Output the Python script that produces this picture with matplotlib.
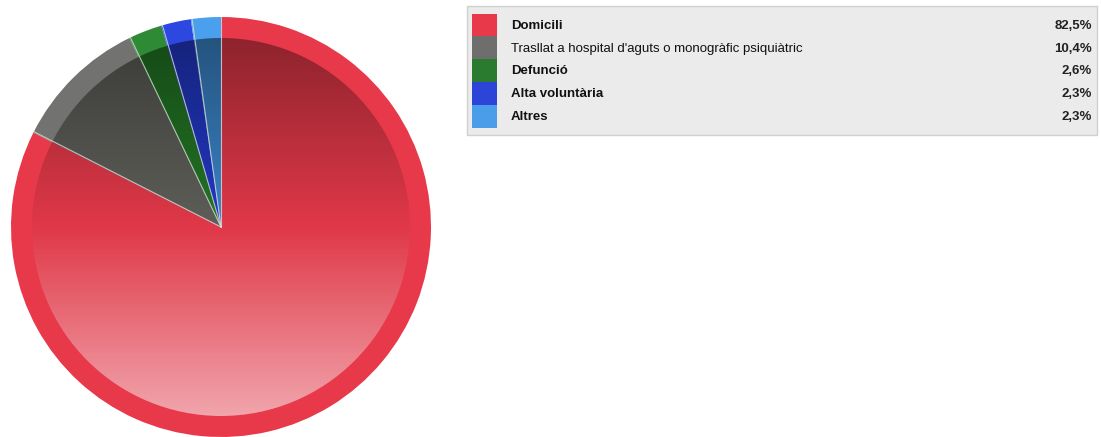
import numpy as np
import matplotlib.pyplot as plt
from matplotlib.patches import Circle, Rectangle

# dades
categories = ["Domicili",
              "Trasllat a hospital d'aguts o monogràfic psiquiàtric",
              "Defunció",
              "Alta voluntària",
              "Altres"]
valors = [82.5, 10.4, 2.6, 2.3, 2.3]
etiquetes_pct = ["82,5%", "10,4%", "2,6%", "2,3%", "2,3%"]
negreta = [True, False, True, True, True]

colors_vora = ["#e8394a", "#727270", "#2f8a35", "#2c48e0", "#4aa0ec"]
colors_interior = ["#e03848", "#5e5e59", "#237525", "#2238c4", "#3a84c8"]
colors_llegenda = ["#e8394a", "#6e6e6c", "#2a7a30", "#2c44d8", "#4a9de8"]

W, H = 1101, 437
fig = plt.figure(figsize=(W / 100, H / 100), dpi=100)
ax = fig.add_axes([0, 0, 1, 1])

cx, cy = 221, 437 - 227
R = 210
r_in = R * 0.9

# -------------------------
# PASTÍS
# -------------------------
ax.pie(valors, colors=colors_vora, startangle=90, counterclock=False,
       radius=R, center=(cx, cy), frame=True,
       wedgeprops=dict(linewidth=0))
ax.pie(valors, colors=colors_interior, startangle=90, counterclock=False,
       radius=r_in, center=(cx, cy), frame=True,
       wedgeprops=dict(linewidth=0))

# degradat: fosc a dalt, clar a baix
n = 256
t = np.linspace(0, 1, n)  # 0 = dalt
grad = np.zeros((n, 2, 4))
for i, v in enumerate(t):
    if v < 0.5:
        grad[i, :, :3] = 0.0
        grad[i, :, 3] = 0.37 * (0.5 - v) / 0.5
    else:
        grad[i, :, :3] = 1.0
        grad[i, :, 3] = 0.55 * (v - 0.5) / 0.5
im = ax.imshow(grad, extent=(cx - r_in, cx + r_in, cy - r_in, cy + r_in),
               origin="upper", aspect="auto", zorder=3)
clip = Circle((cx, cy), r_in, transform=ax.transData)
im.set_clip_path(clip)

# línies de separació
angles = 90 - np.cumsum([0] + valors) * 3.6
for a in angles[:-1]:
    rad = np.radians(a)
    ax.plot([cx, cx + R * np.cos(rad)], [cy, cy + R * np.sin(rad)],
            color="#dcdcdc", lw=0.8, alpha=0.8, zorder=4)

ax.set_xlim(0, W)
ax.set_ylim(0, H)
ax.set_aspect("equal")
ax.axis("off")

# -------------------------
# LLEGENDA
# -------------------------
x0, y_top, y_bot, x1 = 467, 437 - 6, 437 - 135, 1097
ax.add_patch(Rectangle((x0, y_bot), x1 - x0, y_top - y_bot,
                       facecolor="#ebebeb", edgecolor="#d0d0d0", lw=1, zorder=5))
fila = 22.8
y_ini = 437 - 13.5
for i, cat in enumerate(categories):
    yt = y_ini - i * fila
    ax.add_patch(Rectangle((472, yt - fila), 25, fila,
                           facecolor=colors_llegenda[i], edgecolor="none", zorder=6))
    yc = yt - fila / 2 - 1
    pes = "bold" if negreta[i] else "normal"
    ax.text(511, yc, cat, fontsize=9.5, fontweight=pes, color="#111111",
            va="center", ha="left", zorder=7, family="Liberation Sans")
    ax.text(1092, yc, etiquetes_pct[i], fontsize=9.5, fontweight="bold",
            color="#222222", va="center", ha="right", zorder=7,
            family="Liberation Sans")

fig.savefig("out.png", dpi=100)
